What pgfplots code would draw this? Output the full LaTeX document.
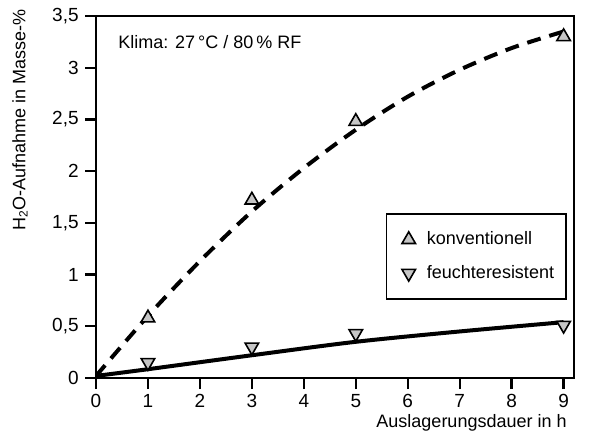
\documentclass[border=0pt]{standalone}
\usepackage{pgfplots}
\pgfplotsset{compat=1.18}
\usetikzlibrary{calc}
\usepackage{fontspec}
\setmainfont{Liberation Sans}
\begin{document}
\fontsize{9}{11}\selectfont
\begin{tikzpicture}
\begin{axis}[
  scale only axis, width=239pt, height=181pt,
  xmin=0, xmax=9.2, ymin=0, ymax=3.5,
  xtick={0,1,...,9}, ytick={0,0.5,...,3.5},
  xtick pos=bottom, ytick pos=left,
  tick align=outside, major tick length=5.5pt,
  every tick/.style={line width=1.2pt,black},
  axis line style={line width=1.2pt},
  /pgf/number format/use comma,
  /pgf/number format/assume math mode=true,
  tick label style={font=\fontsize{9.5}{11}\selectfont},
  xticklabel style={inner ysep=0.5pt, yshift=-2pt},
  legend style={at={(rel axis cs:0.985,0.456)}, anchor=north east,
    draw=black, line width=0.8pt, font=\fontsize{9}{11}\selectfont,
    inner xsep=4pt, inner ysep=7pt, row sep=5pt, cells={anchor=west}},
  legend image code/.code={\path[draw=none,fill=none] (0cm,0cm) (0.5cm,0cm);
    \draw[#1,line width=0.8pt,solid] plot coordinates {(0.25cm,0cm)};},
]
% fitted curves
\addplot[black, line width=2pt, dash pattern=on 7pt off 4.5pt, smooth, forget plot]
  coordinates {(0,0.02) (1,0.60) (2,1.13) (3,1.61) (4,2.03) (5,2.40) (6,2.72) (7,2.98) (8,3.19) (9,3.35)};
\addplot[black, line width=2pt, smooth, forget plot]
  coordinates {(0,0.02) (1,0.085) (3,0.22) (5,0.35) (7,0.45) (9,0.54)};
% measured values
\addplot[only marks, mark=triangle*, mark size=3.9pt,
  mark options={fill=gray!45, draw=black, line width=0.8pt}]
  coordinates {(1,0.58) (3,1.72) (5,2.48) (9,3.30)};
\addlegendentry{konventionell}
\addplot[only marks, mark=triangle*, mark size=3.9pt,
  mark options={rotate=180, fill=gray!45, draw=black, line width=0.8pt}]
  coordinates {(1,0.15) (3,0.30) (5,0.43) (9,0.51)};
\addlegendentry{feuchteresistent}
\end{axis}
\node[anchor=east, inner sep=0pt] at ([xshift=-3.5pt,yshift=-22.5pt]current axis.south east) {Auslagerungsdauer in h};
\node[anchor=base west] at ([xshift=8pt,yshift=-16pt]current axis.north west) {Klima: 27\,°C / 80\,\% RF};
\node[rotate=90] at ([xshift=-38pt]$(current axis.south west)!0.713!(current axis.north west)$) {H\textsubscript{2}O-Aufnahme in Masse-\%};
\path ([xshift=-48pt,yshift=-30.5pt]current axis.south west) rectangle ([xshift=9.5pt,yshift=8pt]current axis.north east);
\end{tikzpicture}
\end{document}
